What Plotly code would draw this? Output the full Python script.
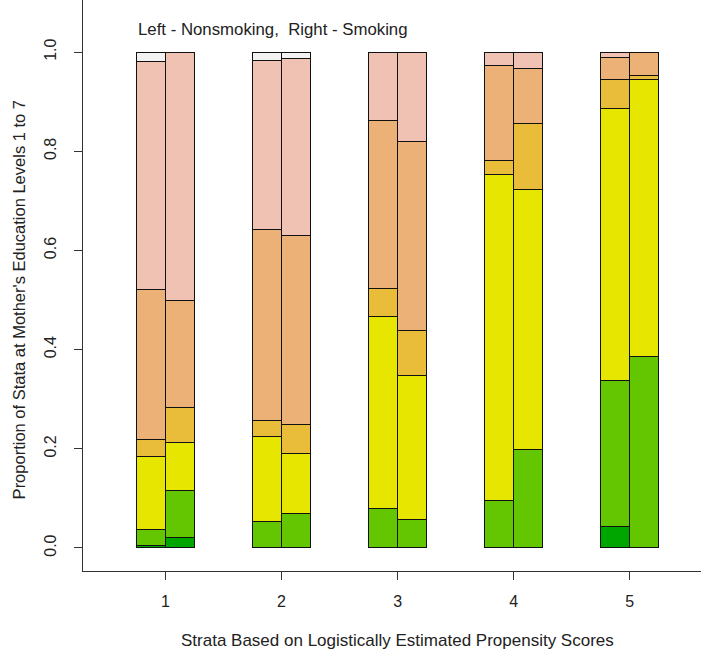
import plotly.graph_objects as go

# Strata and groups
strata = [1, 2, 3, 4, 5]
groups = ["Nonsmoking", "Smoking"]
levels = ["Level 1", "Level 2", "Level 3", "Level 4", "Level 5", "Level 6", "Level 7"]

# Proportions per level (bottom to top), order: S1-N, S1-S, S2-N, S2-S, ..., S5-N, S5-S
level1 = [0.005, 0.022, 0.000, 0.000, 0.000, 0.000, 0.000, 0.000, 0.044, 0.000]
level2 = [0.032, 0.094, 0.054, 0.070, 0.079, 0.057, 0.096, 0.199, 0.294, 0.387]
level3 = [0.148, 0.096, 0.170, 0.120, 0.388, 0.290, 0.657, 0.524, 0.548, 0.557]
level4 = [0.034, 0.072, 0.033, 0.059, 0.057, 0.092, 0.029, 0.133, 0.058, 0.009]
level5 = [0.303, 0.216, 0.385, 0.382, 0.338, 0.380, 0.190, 0.111, 0.045, 0.047]
level6 = [0.459, 0.500, 0.342, 0.356, 0.138, 0.181, 0.028, 0.033, 0.011, 0.000]
level7 = [0.019, 0.000, 0.016, 0.013, 0.000, 0.000, 0.000, 0.000, 0.000, 0.000]

level_values = [level1, level2, level3, level4, level5, level6, level7]
colors = ["#00A600", "#63C600", "#E6E600", "#E9BD3A", "#ECB176", "#EFC2B3", "#F2F2F2"]

bar_w = 0.25
xpos = []
for s in strata:
    xpos += [s - bar_w / 2, s + bar_w / 2]

fig = go.Figure()
for name, vals, col in zip(levels, level_values, colors):
    fig.add_trace(go.Bar(
        x=xpos, y=vals, width=bar_w, name=name,
        marker=dict(color=col, line=dict(color="#111111", width=1)),
        showlegend=False,
    ))

font_family = "Liberation Sans, Arial, sans-serif"
fig.update_layout(
    barmode="stack",
    width=701, height=656,
    margin=dict(l=83, r=0, t=0, b=85),
    paper_bgcolor="white", plot_bgcolor="white",
    font=dict(family=font_family, size=16, color="#222222"),
    xaxis=dict(
        range=[0.289, 5.614], tickmode="array", tickvals=strata,
        ticktext=[str(s) for s in strata],
        showgrid=False, zeroline=False, showline=True, linecolor="#333333",
        linewidth=1, ticks="outside", ticklen=8, tickcolor="#333333",
        ticklabelstandoff=8,
    ),
    yaxis=dict(
        range=[-0.0464, 1.105], tickmode="array",
        tickvals=[0, 0.2, 0.4, 0.6, 0.8, 1.0],
        ticktext=["0.0", "0.2", "0.4", "0.6", "0.8", "1.0"],
        tickangle=-90,
        showgrid=False, zeroline=False, showline=True, linecolor="#333333",
        linewidth=1, ticks="outside", ticklen=8, tickcolor="#333333",
        ticklabelstandoff=12,
    ),
    annotations=[
        dict(text="Left - Nonsmoking,  Right - Smoking", x=0.745, y=1.046,
             xref="x", yref="y", xanchor="left", yanchor="middle",
             showarrow=False, font=dict(size=16.8)),
        dict(text="Strata Based on Logistically Estimated Propensity Scores",
             x=3, y=-0.121, xref="x", yref="paper", xanchor="center",
             yanchor="middle", showarrow=False, font=dict(size=17)),
        dict(text="Proportion of Stata at Mother's Education Levels 1 to 7",
             x=-0.103, y=0.5, xref="paper", yref="y", xanchor="center",
             yanchor="middle", textangle=-90, showarrow=False, font=dict(size=16.5)),
    ],
)

fig.write_html("out.html", config={"displayModeBar": False},
               post_script="document.body.style.margin='0px';")
